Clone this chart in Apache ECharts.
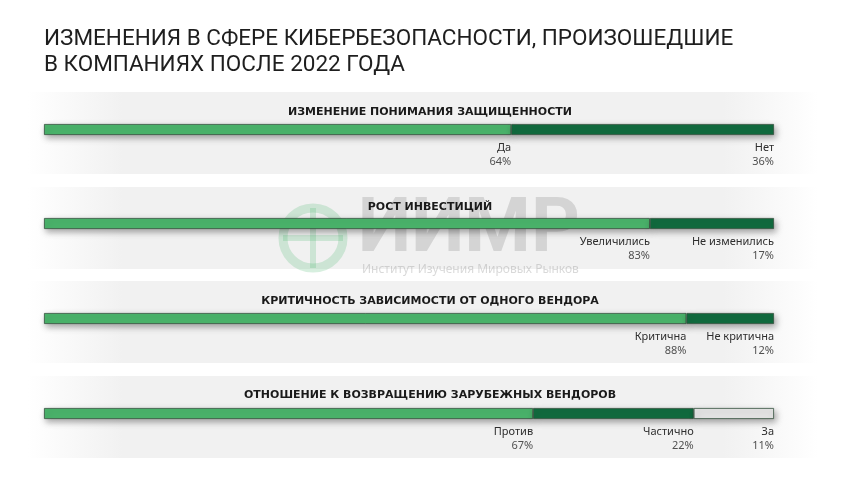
<!DOCTYPE html>
<html><head><meta charset="utf-8">
<script src="https://cdn.jsdelivr.net/npm/echarts@6/dist/echarts.min.js"></script>
<style>html,body{margin:0;padding:0;background:#fff}#c{width:860px;height:484px}</style>
</head><body><div id="c"></div>
<script>
const mainTitle = ['Изменения в сфере кибербезопасности, произошедшие', 'в компаниях после 2022 года'];
const sectionTitles = [
  'Изменение понимания защищенности',
  'Рост инвестиций',
  'Критичность зависимости от одного вендора',
  'Отношение к возвращению зарубежных вендоров'
];
const q1Labels = ['Да', 'Нет'];
const q1Values = [64, 36];
const q2Labels = ['Увеличились', 'Не изменились'];
const q2Values = [83, 17];
const q3Labels = ['Критична', 'Не критична'];
const q3Values = [88, 12];
const q4Labels = ['Против', 'Частично', 'За'];
const q4Values = [67, 22, 11];
const watermark = 'ИИМР';
const watermarkSub = 'Институт Изучения Мировых Рынков';

const questions = [
  {labels: q1Labels, values: q1Values},
  {labels: q2Labels, values: q2Values},
  {labels: q3Labels, values: q3Values},
  {labels: q4Labels, values: q4Values}
];
const segColors = ['#4bb56c', '#116c3f', '#e6e6e6'];
const barTops = [124, 218, 313, 408];
const titleTops = [102, 197, 291, 385];
const bandTops = [92, 187, 281, 376];
const BAR_H = 11, LEFT = 44, WIDTH = 730;

const grids = [], xAxes = [], yAxes = [], series = [], titles = [];
titles.push({
  left: 44, top: 26, padding: 0,
  text: mainTitle.map(l => l.toUpperCase()).join('\n'),
  textStyle: {fontFamily: 'Roboto', fontWeight: 'normal', fontSize: 22.5, color: '#1e1e1e', lineHeight: 26}
});
questions.forEach((q, qi) => {
  grids.push({left: LEFT, width: WIDTH, top: barTops[qi], height: BAR_H});
  xAxes.push({type: 'value', gridIndex: qi, min: 0, max: 100, show: false});
  yAxes.push({type: 'category', gridIndex: qi, data: [sectionTitles[qi]], show: false});
  titles.push({
    left: 'center', top: titleTops[qi],
    text: sectionTitles[qi].toUpperCase(),
    textStyle: {fontFamily: 'DejaVu Sans', fontWeight: 'bold', fontSize: 11, color: '#1a1a1a'}
  });
  q.values.forEach((v, i) => {
    series.push({
      type: 'bar', stack: 'q' + qi, xAxisIndex: qi, yAxisIndex: qi,
      barWidth: BAR_H, data: [v], name: q.labels[i],
      itemStyle: {
        color: segColors[i], borderColor: '#34503d', borderWidth: 0.8,
        shadowColor: 'rgba(0,0,0,0.35)', shadowBlur: 6, shadowOffsetY: 3, shadowOffsetX: 2
      },
      label: {
        show: true, position: ['100%', '100%'], offset: [0, 6], align: 'right', verticalAlign: 'top',
        formatter: '{n|' + q.labels[i] + '}\n{p|' + v + '%}',
        rich: {
          n: {fontFamily: 'Noto Sans', fontSize: 11, color: '#2e2e2e', lineHeight: 14, align: 'right'},
          p: {fontFamily: 'Noto Sans', fontSize: 11, color: '#505050', lineHeight: 14, align: 'right'}
        }
      },
      emphasis: {disabled: true}, animation: false
    });
  });
});

const graphics = bandTops.map(t => ({
  type: 'rect', z: -10, silent: true,
  shape: {x: 28, y: t, width: 790, height: 82},
  style: {
    fill: new echarts.graphic.LinearGradient(0, 0, 1, 0, [
      {offset: 0, color: '#ffffff'}, {offset: 0.12, color: '#f1f1f1'},
      {offset: 0.88, color: '#f1f1f1'}, {offset: 1, color: '#ffffff'}
    ])
  }
}));
graphics.push({
  type: 'group', z: 100, silent: true,
  children: [
    {type: 'circle', shape: {cx: 313, cy: 238, r: 30}, style: {fill: 'none', stroke: 'rgba(75,181,108,0.22)', lineWidth: 9}},
    {type: 'line', shape: {x1: 283, y1: 238, x2: 343, y2: 238}, style: {stroke: 'rgba(75,181,108,0.22)', lineWidth: 6}},
    {type: 'line', shape: {x1: 313, y1: 208, x2: 313, y2: 268}, style: {stroke: 'rgba(75,181,108,0.22)', lineWidth: 6}},
    {type: 'text', style: {x: 358, y: 232, text: watermark, fontFamily: 'Roboto', fontWeight: 'bold', fontSize: 76, fill: 'rgba(110,110,110,0.22)', verticalAlign: 'middle'}},
    {type: 'text', style: {x: 362, y: 270, text: watermarkSub, fontFamily: 'Noto Sans', fontSize: 12, fill: 'rgba(120,120,120,0.28)', verticalAlign: 'middle'}}
  ]
});

const chart = echarts.init(document.getElementById('c'), null, {renderer: 'canvas'});
chart.setOption({
  animation: false,
  backgroundColor: '#ffffff',
  title: titles,
  grid: grids, xAxis: xAxes, yAxis: yAxes, series: series,
  graphic: graphics,
  tooltip: {show: false}
});
</script></body></html>
